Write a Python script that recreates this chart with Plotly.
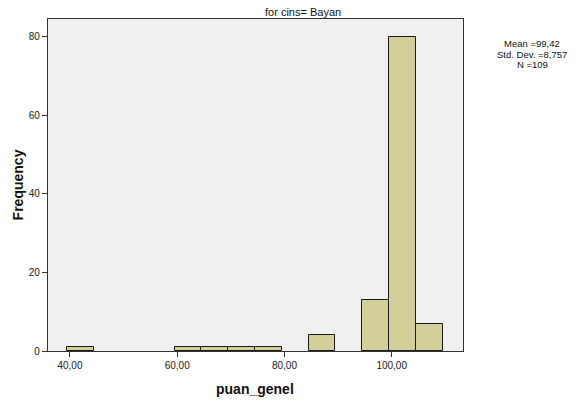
import plotly.graph_objects as go

bin_starts = [39.5, 59.5, 64.5, 69.5, 74.5, 84.5, 94.5, 99.5, 104.5]
counts = [1, 1, 1, 1, 1, 4, 13, 80, 7]
bin_width = 5
x_ticks = [40, 60, 80, 100]
x_tick_labels = ["40,00", "60,00", "80,00", "100,00"]
y_ticks = [0, 20, 40, 60, 80]
stats_lines = ["Mean =99,42", "Std. Dev. =8,757", "N =109"]

centers = [s + bin_width / 2 for s in bin_starts]

fig = go.Figure(go.Bar(
    x=centers, y=counts, width=[bin_width] * len(counts),
    marker=dict(color="#d3cf98", line=dict(color="#1a1a1a", width=1)),
    hoverinfo="skip",
))

L, R, T, B = 47.5, 116, 19, 51.7
W, H = 579, 403
pw = W - L - R
ph = H - T - B
def px(xp):
    return (xp - L) / pw
def py(yp):
    return (H - B - yp) / ph

font_family = "Liberation Sans, Arial, sans-serif"
fig.update_layout(
    width=W, height=H,
    margin=dict(l=L, r=R, t=T, b=B, autoexpand=False),
    paper_bgcolor="white", plot_bgcolor="#f0f0f0",
    showlegend=False, bargap=0,
    font=dict(family=font_family, size=10, color="#222"),
    xaxis=dict(
        range=[35.9, 113.3], tickvals=x_ticks, ticktext=x_tick_labels,
        showgrid=False, zeroline=False, showline=True, mirror=True,
        linecolor="#333", linewidth=1.2, ticks="outside", ticklen=5,
        tickcolor="#333", tickfont=dict(size=10), automargin=False,
    ),
    yaxis=dict(
        range=[0, 84.5], tickvals=y_ticks,
        showgrid=False, zeroline=False, showline=True, mirror=True,
        linecolor="#333", linewidth=1.2, ticks="outside", ticklen=5,
        tickcolor="#333", tickfont=dict(size=10), automargin=False,
    ),
)
fig.add_annotation(text="for cins= Bayan", x=px(303), y=py(12), xref="paper", yref="paper",
                   xanchor="center", yanchor="middle", showarrow=False,
                   font=dict(size=11, color="#111"))
fig.add_annotation(text="<b>puan_genel</b>", x=px(255), y=py(389), xref="paper", yref="paper",
                   xanchor="center", yanchor="middle", showarrow=False,
                   font=dict(size=14, color="#111"))
fig.add_annotation(text="<b>Frequency</b>", x=px(17), y=py(185), xref="paper", yref="paper",
                   xanchor="center", yanchor="middle", showarrow=False, textangle=-90,
                   font=dict(size=14, color="#111"))
for i, line in enumerate(stats_lines):
    fig.add_annotation(
        text=line, x=px(532.5), y=py(44 + 10.5 * i), xref="paper", yref="paper",
        xanchor="center", yanchor="middle", showarrow=False, borderpad=0,
        font=dict(size=9.5, color="#111"),
    )
fig.write_html("out.html")
